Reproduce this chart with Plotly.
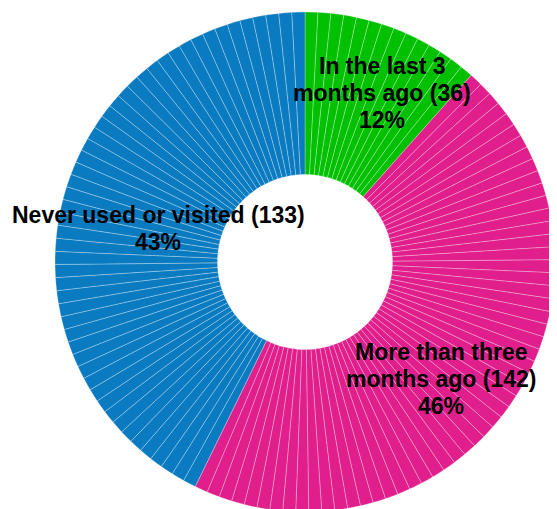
import plotly.graph_objects as go

# ==== data ====
categories = ["In the last 3 months ago", "More than three months ago", "Never used or visited"]
counts = [36, 142, 133]
colors = ["#00C000", "#E01E8C", "#0A7BC0"]
label_lines = [["In the last 3", "months ago (36)"],
               ["More than three", "months ago (142)"],
               ["Never used or visited (133)"]]

W, H = 557, 509
OFF = 8  # page body margin shifts the figure by 8px
M = dict(l=47, r=10, t=4, b=5)
LINE_H = 27

# split every category into thin equal wedges (about 2.6 responses each)
vals, cols, names = [], [], []
for cat, n, c in zip(categories, counts, colors):
    k = max(1, round(n / 2.6))
    vals += [n / k] * k
    cols += [c] * k
    names += [cat] * k

fig = go.Figure(go.Pie(
    values=vals,
    labels=[f"{nm} #{i}" for i, nm in enumerate(names)],
    marker=dict(colors=cols, line=dict(color="rgba(255,255,255,0.4)", width=0.7)),
    sort=False, direction="clockwise", rotation=0,
    hole=0.35, textinfo="none", hoverinfo="skip", showlegend=False,
))

# label positions in window pixels (centre of text block)
label_px = [(382, 93), (441, 379), (158, 228)]
total = sum(counts)
pw = W - M["l"] - M["r"]
ph = H - M["t"] - M["b"]
for lines, n, (px, py) in zip(label_lines, counts, label_px):
    pct = round(100 * n / total)
    rows = lines + [f"{pct}%"]
    for i, row in enumerate(rows):
        ly = py + (i - (len(rows) - 1) / 2) * LINE_H
        fig.add_annotation(
            text=row, xref="paper", yref="paper",
            x=(px - OFF - M["l"]) / pw, y=1 - (ly - OFF - M["t"]) / ph,
            xanchor="center", yanchor="middle", showarrow=False,
            font=dict(family="Liberation Sans, Arial", size=23, color="black", weight="bold"),
        )

fig.update_layout(width=W, height=H, margin=M, paper_bgcolor="white",
                  plot_bgcolor="white")
fig.write_html("out.html")
